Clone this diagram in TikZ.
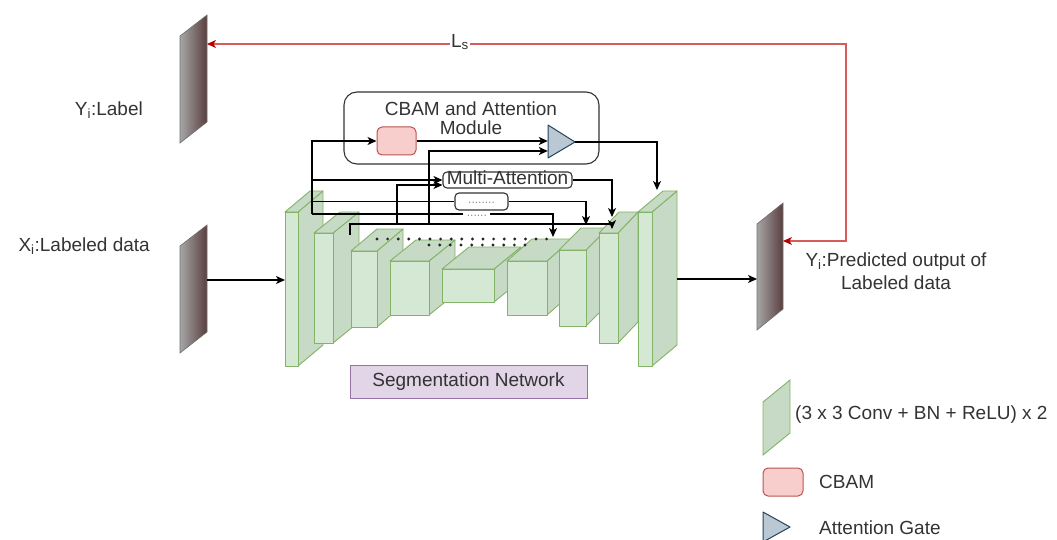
\documentclass[tikz,border=0pt]{standalone}
\usepackage{fontspec}
\setmainfont{Liberation Sans}
\usetikzlibrary{arrows.meta,shapes.geometric}

\definecolor{txt}{HTML}{333333}
\definecolor{gfront}{HTML}{D5E8D4}
\definecolor{gside}{HTML}{C7DAC5}
\definecolor{gline}{HTML}{82B366}
\definecolor{cbamfill}{HTML}{F8CECC}
\definecolor{cbamline}{HTML}{B85450}
\definecolor{agfill}{HTML}{BAC8D3}
\definecolor{agline}{HTML}{23445D}
\definecolor{segfill}{HTML}{E1D5E7}
\definecolor{segline}{HTML}{9673A6}
\definecolor{lossline}{HTML}{D65C5C}
\definecolor{losstip}{HTML}{B80000}
\definecolor{panelL}{HTML}{A6A6A6}
\definecolor{panelR}{HTML}{5A3E3E}
\definecolor{panelEdge}{HTML}{6E6E6E}

% 3-D feature block: #1,#2 front top-left corner, #3 width, #4 height, #5/#6 depth offset (right/up)
\newcommand\unetblock[6]{%
  \filldraw[cubeside] (#1+#3,#2) -- ++(#5,-#6) -- ++(0,#4) -- ++(-#5,#6) -- cycle;
  \filldraw[cubeside] (#1,#2) -- ++(#5,-#6) -- ++(#3,0) -- ++(-#5,#6) -- cycle;
  \filldraw[cubefront] (#1,#2) rectangle ++(#3,#4);
}
% data panel drawn as a shaded parallelogram
\newcommand\datapanel[4]{% #1 left x, #2 right x, #3 top of right edge, #4 edge length
  \shade[left color=panelL, right color=panelR, draw=panelEdge, line width=0.6pt]
    (#1,#3+21) -- (#2,#3) -- (#2,#3+#4) -- (#1,#3+#4+21) -- cycle;
}

\begin{document}
\begin{tikzpicture}[x=1pt,y=-1pt,
  lbl/.style={font=\fontsize{19}{21}\selectfont, text=txt, inner sep=0pt},
  cubefront/.style={fill=gfront, draw=gline, line width=0.9pt, line join=round},
  cubeside/.style={fill=gside, draw=gline, line width=0.9pt, line join=round},
  conn/.style={draw=black, line width=1.2pt},
  arr/.style={conn, -{Stealth[length=9pt,width=8pt,inset=2.5pt]}},
  tagbox/.style={draw=txt, line width=1.1pt, rounded corners=4pt, fill=white, inner sep=0pt},
  dotmark/.style={fill=black!85, draw=none},
  faint/.style={text=txt!55, font=\fontsize{12}{12}\selectfont},
]
\useasboundingbox (0,0) rectangle (1057,540);

% ---------------- input / output panels ----------------
\datapanel{180}{207}{15}{107}
\datapanel{180}{207}{225}{107}
\datapanel{757}{783}{203}{106}
\coordinate (yiR) at (207,44);
\coordinate (xiR) at (207,280);
\coordinate (outL) at (757,279);
\coordinate (outR) at (783,241);

\node[lbl, anchor=east] (yilbl) at (143,110) {Y\textsubscript{i}:Label};
\node[lbl, anchor=east] (xilbl) at (150,246) {X\textsubscript{i}:Labeled data};
\node[lbl, align=center] (predlbl) at (896,271)
  {Y\textsubscript{i}:Predicted output of\\[2pt]Labeled data};

% ---------------- encoder / decoder blocks ----------------
\unetblock{285}{212}{13}{154}{25}{21}
\unetblock{314}{233}{19}{110}{26}{21}
\unetblock{351}{251}{26}{76}{26}{22}
\unetblock{390}{261}{39}{54}{26}{21}
\unetblock{442}{269}{52}{33}{27}{22}
\unetblock{507}{261}{40}{54}{25}{22}
\unetblock{559}{250}{27}{76}{22}{22}
\unetblock{599}{233}{19}{110}{20}{21}
\unetblock{638}{212}{14}{154}{25}{21}

% dotted skip rows
\foreach \i in {0,...,16} \fill[dotmark] (377+10.6*\i,239) circle (1.6pt);
\foreach \i in {0,...,9} \fill[dotmark] (429+10.67*\i,245) circle (1.6pt);

\node[draw=segline, fill=segfill, line width=0.9pt, minimum width=237pt, minimum height=33pt, lbl]
  (seg) at (468.5,381.5) {Segmentation Network};

% ---------------- attention module ----------------
\node[draw=txt, line width=1.1pt, rounded corners=13pt, minimum width=255pt, minimum height=72pt]
  (mod) at (471.5,128) {};
\node[lbl, align=center, font=\fontsize{19}{19}\selectfont] (modtxt) at (471,118.5)
  {CBAM and Attention\\Module};
\node[draw=cbamline, fill=cbamfill, line width=1pt, rounded corners=5pt,
  minimum width=39pt, minimum height=28pt, inner sep=0pt] (cbam) at (396.5,141) {};
\filldraw[fill=agfill, draw=agline, line width=1pt, line join=round]
  (548,125) -- (575,142) -- (548,158) -- cycle;
\node[inner sep=0pt, minimum width=27pt, minimum height=33pt] (tri) at (561.5,142) {};

\node[tagbox, lbl, minimum width=129pt, minimum height=16pt, text height=12pt, text depth=3pt]
  (ma) at (507.5,180) {Multi-Attention};
\node[tagbox, faint, minimum width=53pt, minimum height=17pt, text height=5pt, text depth=0pt]
  (dbox) at (481.5,201.5) {........};

% connection points on the blocks
\coordinate (b1) at (312,214);
\coordinate (b2) at (350,235);
\coordinate (j2) at (350,224);
\coordinate (k6) at (553,237);
\coordinate (k7) at (586,225);
\coordinate (k8a) at (612,217);
\coordinate (k8b) at (612,229);
\coordinate (k9) at (657,190);
\coordinate (b9R) at (677,279);
\coordinate (b1L) at (285,280);

% ---------------- connectors ----------------
\draw[arr] (xiR) -- (b1L);
\draw[arr] (b9R) -- (outL);

\draw[arr] (b1) |- (cbam.west);
\draw[arr] (cbam.east) -- (tri.west |- cbam.east);
\draw[arr] (tri.east) -| (k9);
\draw[arr] (b1 |- ma.west) -- (ma.west);
\draw[conn] (b1 |- dbox.west) -- (dbox.west);
\draw[arr] (dbox.east) -| (k7);
\draw[arr] (ma.east) -| (k8a);
\draw[arr] (b1) -| (k6)
  node[pos=0.342, fill=white, inner sep=0pt, minimum width=27pt, minimum height=8pt,
       faint, yshift=-2pt] (gap) {......};
\draw[arr] (b2) -- (j2) -| (k8b);
\draw[arr] (397,224) |- ([yshift=-5pt]ma.west);
\draw[arr] (429,224) |- ([yshift=-9pt]tri.west);

% ---------------- supervised loss ----------------
\draw[draw=lossline, line width=1.2pt,
  {Stealth[length=9pt,width=8pt,inset=2.5pt,color=losstip]}-{Stealth[length=9pt,width=8pt,inset=2.5pt,color=losstip]}]
  (yiR) -- (846,44) -- (846,241) -- (outR);
\node[lbl, fill=white, inner sep=1.5pt] (ls) at (460,42) {L\textsubscript{s}};

% ---------------- legend ----------------
\filldraw[fill=gside, draw=gline, line width=0.9pt] (763,402) -- (790,380) -- (790,433) -- (763,455) -- cycle;
\node[lbl, anchor=west] (legconv) at (795,415) {(3 x 3 Conv + BN + ReLU) x 2};
\node[draw=cbamline, fill=cbamfill, line width=1pt, rounded corners=5pt,
  minimum width=40pt, minimum height=28pt, inner sep=0pt] (legcbam) at (783,482) {};
\node[lbl, anchor=west] (legcbamtxt) at (819,482) {CBAM};
\filldraw[fill=agfill, draw=agline, line width=1pt, line join=round] (763,512) -- (790,527) -- (763,542) -- cycle;
\node[lbl, anchor=west] (legag) at (819,528) {Attention Gate};
\end{tikzpicture}
\end{document}
